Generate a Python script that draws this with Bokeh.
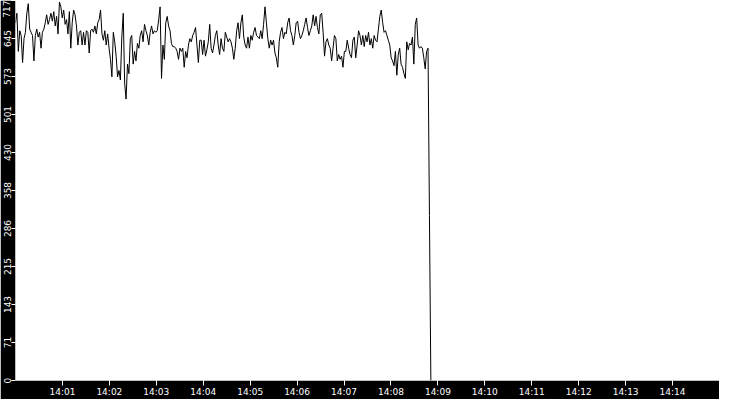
import pandas as pd
from bokeh.plotting import figure
from bokeh.models import FixedTicker, Range1d, ColumnDataSource
from bokeh.embed import file_html
from bokeh.resources import INLINE

# ---- data ----
seg1 = [675, 693, 621, 660, 651, 600, 645, 657, 693, 711, 663, 657, 651, 603, 651, 663, 648, 657,
        627, 657, 663, 675, 690, 672, 681, 693, 678, 696, 669, 687, 654, 714, 705, 684, 699, 672,
        681, 654, 696, 627, 675, 699, 690, 669, 633, 657, 660, 633, 657]
seg2 = [633, 660, 657, 618, 660, 663, 657, 669, 654, 675, 681, 699, 654, 642, 660, 633, 654, 627,
        606, 573, 657, 639, 612, 573, 585, 567, 648, 693, 561, 531, 597, 579, 645, 651, 597, 621,
        603, 636, 627, 651, 660, 639, 672, 660, 651, 633, 657, 669, 654, 660, 657]
seg3 = [660, 681, 705, 570, 633, 606, 675, 687, 669, 660, 636, 630, 630, 627, 621, 606, 627, 621,
        627, 591, 621, 609, 633, 645, 639, 651, 657, 666, 633, 600, 642, 642, 615, 642, 612, 624,
        639, 672, 627, 618, 633, 651, 660, 633, 615, 645, 627, 621, 657, 648, 639]
seg4 = [645, 639, 627, 606, 627, 660, 675, 645, 675, 690, 648, 633, 627, 648, 627, 651, 642, 657,
        666, 651, 648, 645, 660, 645, 672, 705, 675, 645, 627, 642, 633, 642, 618, 609, 591, 639,
        657, 666, 645, 657, 654, 675, 684, 660, 651, 633, 651, 675, 678, 657, 645]
seg5 = [651, 660, 672, 684, 666, 651, 660, 669, 690, 669, 687, 666, 654, 690, 693, 657, 612, 639,
        645, 633, 627, 603, 627, 651, 645, 603, 615, 606, 612, 591, 621, 621, 642, 627, 615, 609,
        642, 648, 609, 633, 660, 651, 633, 651, 630, 651, 639, 657, 633, 645, 627]
seg6 = [651, 642, 639, 663, 687, 699, 675, 657, 660, 651, 642, 633, 609, 603, 594, 621, 576, 615,
        627, 597, 591, 579, 570, 639, 624, 636, 633, 648, 597, 672, 684, 633, 627, 630, 627, 609,
        588, 621, 627]
drop = [311, 0]

values = seg1 + seg2 + seg3 + seg4 + seg5 + seg6 + drop
start_time = "2024-01-01 14:00:00"
end_time = "2024-01-01 14:08:51"
axis_start = "2024-01-01 14:00:00"
axis_end = "2024-01-01 14:15:00"

x_labels = ["14:01", "14:02", "14:03", "14:04", "14:05", "14:06", "14:07",
            "14:08", "14:09", "14:10", "14:11", "14:12", "14:13", "14:14"]
y_ticks = [0, 71.7, 143.4, 215.1, 286.8, 358.5, 430.2, 501.9, 573.6, 645.3, 717.0]
y_labels = ["0", "71", "143", "215", "286", "358", "430", "501", "573", "645", "717"]
y_max = 717.0

# ---- build ----
times = pd.date_range(start_time, end_time, periods=len(values))
src = ColumnDataSource(dict(t=times, v=values))


def ms(ts):
    return int(pd.Timestamp(ts).value // 10**6)


x_ticks = [ms("2024-01-01 " + s) for s in x_labels]

p = figure(width=719, height=399, x_axis_type="datetime",
           output_backend="svg", toolbar_location=None,
           x_range=Range1d(ms(axis_start), ms(axis_end)),
           y_range=Range1d(0, y_max),
           min_border_left=0, min_border_right=0, min_border_top=0, min_border_bottom=0)

p.border_fill_color = "black"
p.background_fill_color = "white"
p.outline_line_color = None
p.grid.visible = False

p.line(x="t", y="v", source=src, line_color="black", line_width=1)

for ax in (p.xaxis[0], p.yaxis[0]):
    ax.axis_line_color = None
    ax.major_tick_line_color = "white"
    ax.minor_tick_line_color = None
    ax.major_tick_in = 0
    ax.major_label_text_color = "white"
    ax.major_label_text_font = "DejaVu Sans"
    ax.major_label_text_font_size = "9px"
    ax.major_label_standoff = 1

p.xaxis[0].ticker = FixedTicker(ticks=x_ticks)
p.xaxis[0].major_label_overrides = dict(zip(x_ticks, x_labels))
p.xaxis[0].major_tick_out = 5

p.yaxis[0].ticker = FixedTicker(ticks=y_ticks)
p.yaxis[0].major_label_overrides = dict(zip(y_ticks, y_labels))
p.yaxis[0].major_label_orientation = "vertical"
p.yaxis[0].major_tick_out = 4

open("out.html", "w").write(file_html(p, INLINE))
